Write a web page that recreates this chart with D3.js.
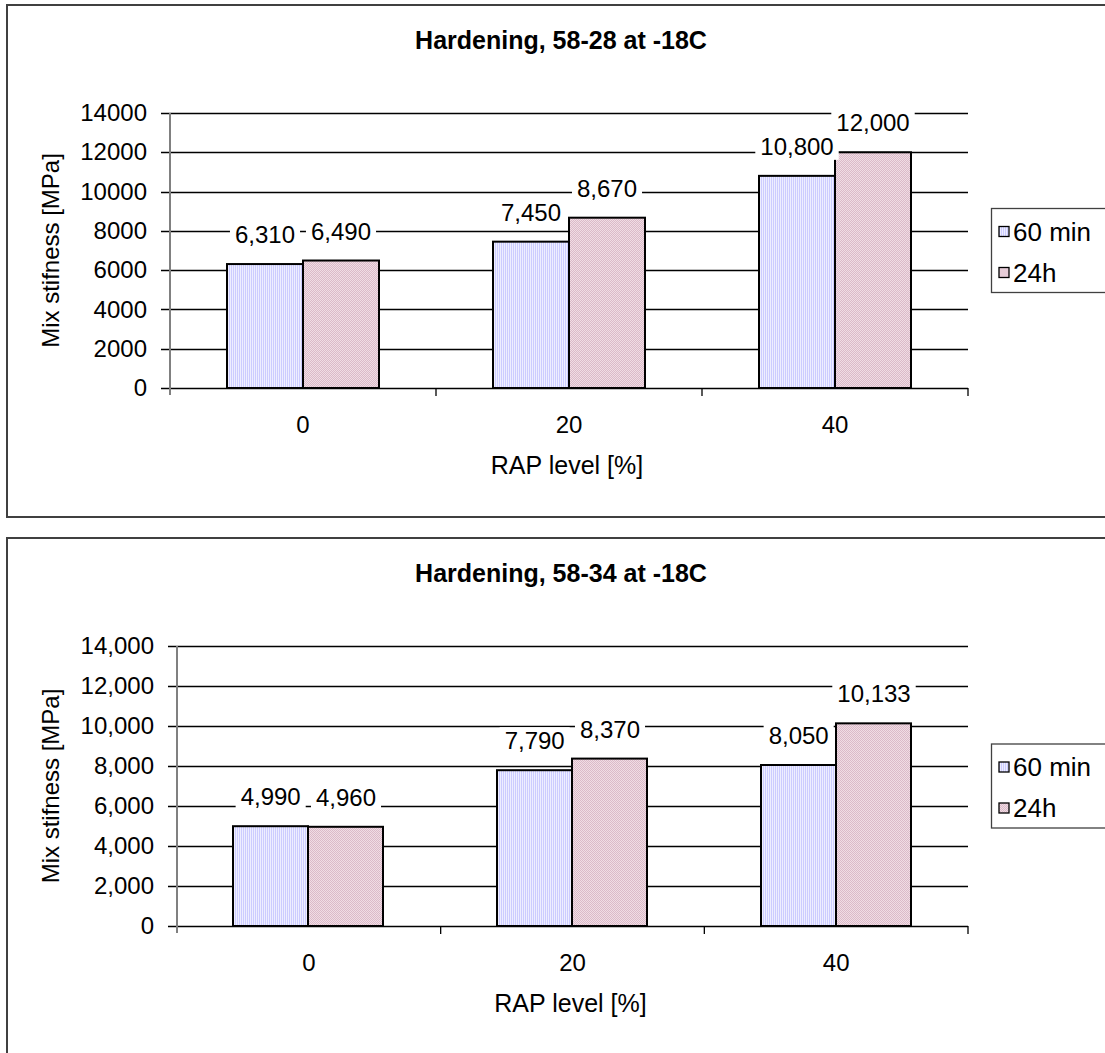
<!DOCTYPE html>
<html>
<head>
<meta charset="utf-8">
<script src="https://cdn.jsdelivr.net/npm/d3@7"></script>
<style>
  html, body { margin: 0; padding: 0; background: #ffffff; overflow: hidden; }
  svg { display: block; font-family: "Liberation Sans", Arial, sans-serif; }
</style>
</head>
<body>
<svg id="chart" width="1105" height="1053"></svg>
<script>
// Mix stiffness after hardening, by RAP level and conditioning time
const categories = ["0", "20", "40"];
const seriesNames = ["60 min", "24h"];
const titles = ["Hardening, 58-28 at -18C", "Hardening, 58-34 at -18C"];
const xAxisTitle = "RAP level [%]";
const yAxisTitle = "Mix stifness [MPa]";
const yTicks = [0, 2000, 4000, 6000, 8000, 10000, 12000, 14000];

const binder5828_60min = [6310, 7450, 10800];
const binder5828_24h = [6490, 8670, 12000];
const binder5834_60min = [4990, 7790, 8050];
const binder5834_24h = [4960, 8370, 10133];

const svg = d3.select("#chart");
const FONT = 24;

// fill patterns for the two series
const defs = svg.append("defs");
const p60 = defs.append("pattern").attr("id", "fill60").attr("patternUnits", "userSpaceOnUse")
  .attr("width", 2).attr("height", 2);
p60.append("rect").attr("width", 2).attr("height", 2).attr("fill", "#eeeeff");
p60.append("rect").attr("width", 1).attr("height", 2).attr("fill", "#ccccff");

const p24 = defs.append("pattern").attr("id", "fill24").attr("patternUnits", "userSpaceOnUse")
  .attr("width", 2).attr("height", 2);
p24.append("rect").attr("width", 2).attr("height", 2).attr("fill", "#f0dde4");
p24.append("rect").attr("width", 1).attr("height", 1).attr("fill", "#dbbac9");
p24.append("rect").attr("x", 1).attr("y", 1).attr("width", 1).attr("height", 1).attr("fill", "#dbbac9");

const seriesFill = ["url(#fill60)", "url(#fill24)"];

const panels = [
  { oy: 0, frameH: 512, title: titles[0], s60: binder5828_60min, s24: binder5828_24h,
    left: 170, right: 968, top: 113, bottom: 388, tickFmt: d3.format("d") },
  { oy: 533, frameH: 540, title: titles[1], s60: binder5834_60min, s24: binder5834_24h,
    left: 177, right: 968, top: 113, bottom: 393, tickFmt: d3.format(",") }
];

const labelFmt = d3.format(",");

panels.forEach(p => {
  const g = svg.append("g").attr("transform", `translate(0,${p.oy})`);

  // outer frame (runs past the right edge)
  g.append("rect").attr("x", 7).attr("y", 5).attr("width", 1130).attr("height", p.frameH)
    .attr("fill", "#ffffff").attr("stroke", "#404040").attr("stroke-width", 2);

  g.append("text").attr("x", 561).attr("y", 40).attr("text-anchor", "middle")
    .attr("dominant-baseline", "central").attr("font-weight", "bold")
    .attr("font-size", 25).text(p.title);

  const y = d3.scaleLinear().domain([0, 14000]).range([p.bottom, p.top]);
  const x0 = d3.scaleBand().domain(categories).range([p.left, p.right])
    .paddingInner(0.75 / 1.75).paddingOuter(0.75 / 3.5);
  const x1 = d3.scaleBand().domain(seriesNames).range([0, x0.bandwidth()]);

  // horizontal gridlines with short outer tick marks
  g.append("g").selectAll("line").data(yTicks).join("line")
    .attr("x1", p.left - 9).attr("x2", p.right)
    .attr("y1", d => Math.round(y(d)) + 0.5).attr("y2", d => Math.round(y(d)) + 0.5)
    .attr("stroke", "#000000").attr("stroke-width", 1.3);

  // y tick labels
  const yAxis = d3.axisLeft(y).tickValues(yTicks).tickFormat(p.tickFmt).tickSize(0).tickPadding(0);
  const ya = g.append("g").attr("transform", `translate(${p.left - 23},0)`).call(yAxis);
  ya.select(".domain").remove();
  ya.selectAll("text").attr("font-size", FONT).attr("font-family", "Liberation Sans, Arial, sans-serif")
    .attr("fill", "#000000");

  // category tick marks at band boundaries
  const step = x0.step();
  g.append("g").selectAll("line").data(d3.range(1, categories.length + 1)).join("line")
    .attr("x1", i => p.left + i * step).attr("x2", i => p.left + i * step)
    .attr("y1", p.bottom).attr("y2", p.bottom + 8)
    .attr("stroke", "#000000").attr("stroke-width", 1.3);

  // category labels
  g.append("g").selectAll("text").data(categories).join("text")
    .attr("x", d => x0(d) + x0.bandwidth() / 2).attr("y", p.bottom + 36)
    .attr("text-anchor", "middle").attr("dominant-baseline", "central")
    .attr("font-size", FONT).text(d => d);

  // bars (snapped to whole pixels so the fill patterns stay crisp)
  const rows = categories.map((c, i) => ({ cat: c, vals: [p.s60[i], p.s24[i]] }));
  const groups = g.append("g").selectAll("g").data(rows).join("g")
    .attr("transform", d => `translate(${Math.round(x0(d.cat))},0)`);
  groups.selectAll("rect").data(d => d.vals.map((v, j) => ({ v, s: seriesNames[j], j })))
    .join("rect")
    .attr("x", d => Math.round(x1(d.s))).attr("width", Math.round(x1.bandwidth()))
    .attr("y", d => y(d.v)).attr("height", d => y(0) - y(d.v))
    .attr("fill", d => seriesFill[d.j]).attr("stroke", "#000000").attr("stroke-width", 2);

  // value labels on a white backing
  const lab = groups.selectAll("g.lab").data(d => d.vals.map((v, j) => ({ v, s: seriesNames[j] })))
    .join("g").attr("class", "lab");
  const lt = lab.append("text")
    .attr("x", d => x1(d.s) + x1.bandwidth() / 2).attr("y", d => y(d.v) - 29.5)
    .attr("text-anchor", "middle").attr("dominant-baseline", "central")
    .attr("font-size", FONT).text(d => labelFmt(d.v));
  lt.each(function () {
    const b = this.getBBox();
    d3.select(this.parentNode).insert("rect", "text")
      .attr("x", b.x - 5).attr("y", b.y).attr("width", b.width + 10).attr("height", b.height)
      .attr("fill", "#ffffff");
  });

  // y axis line (gray), extending just below the baseline
  g.append("line").attr("x1", p.left).attr("x2", p.left)
    .attr("y1", p.top).attr("y2", p.bottom + 7)
    .attr("stroke", "#808080").attr("stroke-width", 2);

  // axis titles
  g.append("text").attr("x", (p.left + p.right) / 2 - 2).attr("y", p.bottom + 77)
    .attr("text-anchor", "middle").attr("dominant-baseline", "central")
    .attr("font-size", 25).text(xAxisTitle);
  g.append("text")
    .attr("transform", `translate(50,${(p.top + p.bottom) / 2}) rotate(-90)`)
    .attr("text-anchor", "middle").attr("dominant-baseline", "central")
    .attr("font-size", FONT).text(yAxisTitle);

  // legend
  const cy = (p.top + p.bottom) / 2;
  const lg = g.append("g");
  lg.append("rect").attr("x", 991.5).attr("y", cy - 42).attr("width", 140).attr("height", 84)
    .attr("fill", "#ffffff").attr("stroke", "#404040").attr("stroke-width", 1.3);
  const items = lg.selectAll("g").data(seriesNames).join("g")
    .attr("transform", (d, i) => `translate(999,${cy + (i === 0 ? -19 : 22)})`);
  items.append("rect").attr("x", 0).attr("y", -5).attr("width", 10).attr("height", 10)
    .attr("fill", (d, i) => seriesFill[i]).attr("stroke", "#000000").attr("stroke-width", 1.3);
  items.append("text").attr("x", 14).attr("y", 0).attr("dominant-baseline", "central")
    .attr("font-size", 26).text(d => d);
});
</script>
</body>
</html>
